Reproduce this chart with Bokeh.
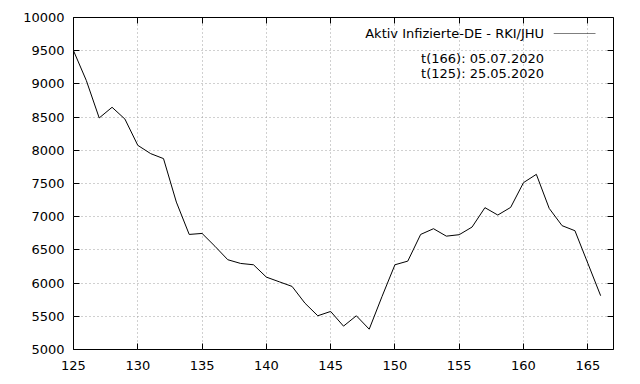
from bokeh.plotting import figure
from bokeh.models import FixedTicker, LinearAxis, Label, BoxAnnotation, Range1d
from bokeh.embed import file_html
from bokeh.resources import INLINE

days = list(range(125, 167))
active = [9500, 9050, 8487, 8648, 8470, 8075, 7950, 7875, 7220, 6733,
          6748, 6555, 6352, 6296, 6276, 6090, 6020, 5950, 5698, 5508,
          5573, 5352, 5508, 5306, 5800, 6276, 6331, 6733, 6819, 6707,
          6729, 6844, 7136, 7025, 7140, 7513, 7638, 7125, 6865, 6789,
          6300, 5810]
x_ticks = [125, 130, 135, 140, 145, 150, 155, 160, 165]
y_ticks = [5000, 5500, 6000, 6500, 7000, 7500, 8000, 8500, 9000, 9500, 10000]
series_name = "Aktiv Infizierte-DE - RKI/JHU"
info_lines = ["t(166): 05.07.2020", "t(125): 25.05.2020"]

FONT = "DejaVu Sans"
FS = "13px"

p = figure(width=640, height=384, output_backend="svg", toolbar_location=None,
           x_range=Range1d(125, 167), y_range=Range1d(5000, 10000),
           x_axis_location=None, y_axis_location=None,
           min_border_left=73, min_border_right=27, min_border_top=17, min_border_bottom=35)
p.background_fill_color = "white"
p.border_fill_color = "white"
p.outline_line_color = "black"
p.outline_line_width = 1

def style_axis(ax, ticks, labels=True, standoff=9):
    ax.ticker = FixedTicker(ticks=ticks)
    ax.axis_line_color = None
    ax.major_tick_in = 6
    ax.major_tick_out = 0
    ax.major_tick_line_color = "black"
    ax.minor_tick_line_color = None
    ax.major_label_text_font = FONT
    ax.major_label_text_font_size = FS
    ax.major_label_text_color = "black"
    ax.major_label_standoff = standoff
    if not labels:
        ax.major_label_overrides = {t: "" for t in ticks}
        ax.major_label_standoff = 0

xb = LinearAxis(); style_axis(xb, x_ticks, True, 11); p.add_layout(xb, "below")
yl = LinearAxis(); style_axis(yl, y_ticks, True, 9); p.add_layout(yl, "left")
xt = LinearAxis(); style_axis(xt, x_ticks, False); p.add_layout(xt, "above")
yr = LinearAxis(); style_axis(yr, y_ticks, False); p.add_layout(yr, "right")

p.xgrid.ticker = FixedTicker(ticks=x_ticks)
p.ygrid.ticker = FixedTicker(ticks=y_ticks)
for g in (p.xgrid, p.ygrid):
    g.grid_line_color = "#a0a0a0"
    g.grid_line_dash = "1 3"
    g.grid_line_width = 1

p.line(days, active, line_color="black", line_width=1)

p.add_layout(Label(x=161.6, y=9759, text=series_name, text_align="right",
                   text_baseline="middle", text_font=FONT, text_font_size=FS, text_color="black"))
p.add_layout(BoxAnnotation(left=162.35, right=165.6, bottom=9755, top=9763,
                           fill_color="black", fill_alpha=1, line_color=None))
p.add_layout(Label(x=161.6, y=9382, text=info_lines[0], text_align="right",
                   text_baseline="middle", text_font=FONT, text_font_size=FS, text_color="black"))
p.add_layout(Label(x=161.6, y=9156, text=info_lines[1], text_align="right",
                   text_baseline="middle", text_font=FONT, text_font_size=FS, text_color="black"))

open("out.html", "w").write(file_html(p, INLINE))
